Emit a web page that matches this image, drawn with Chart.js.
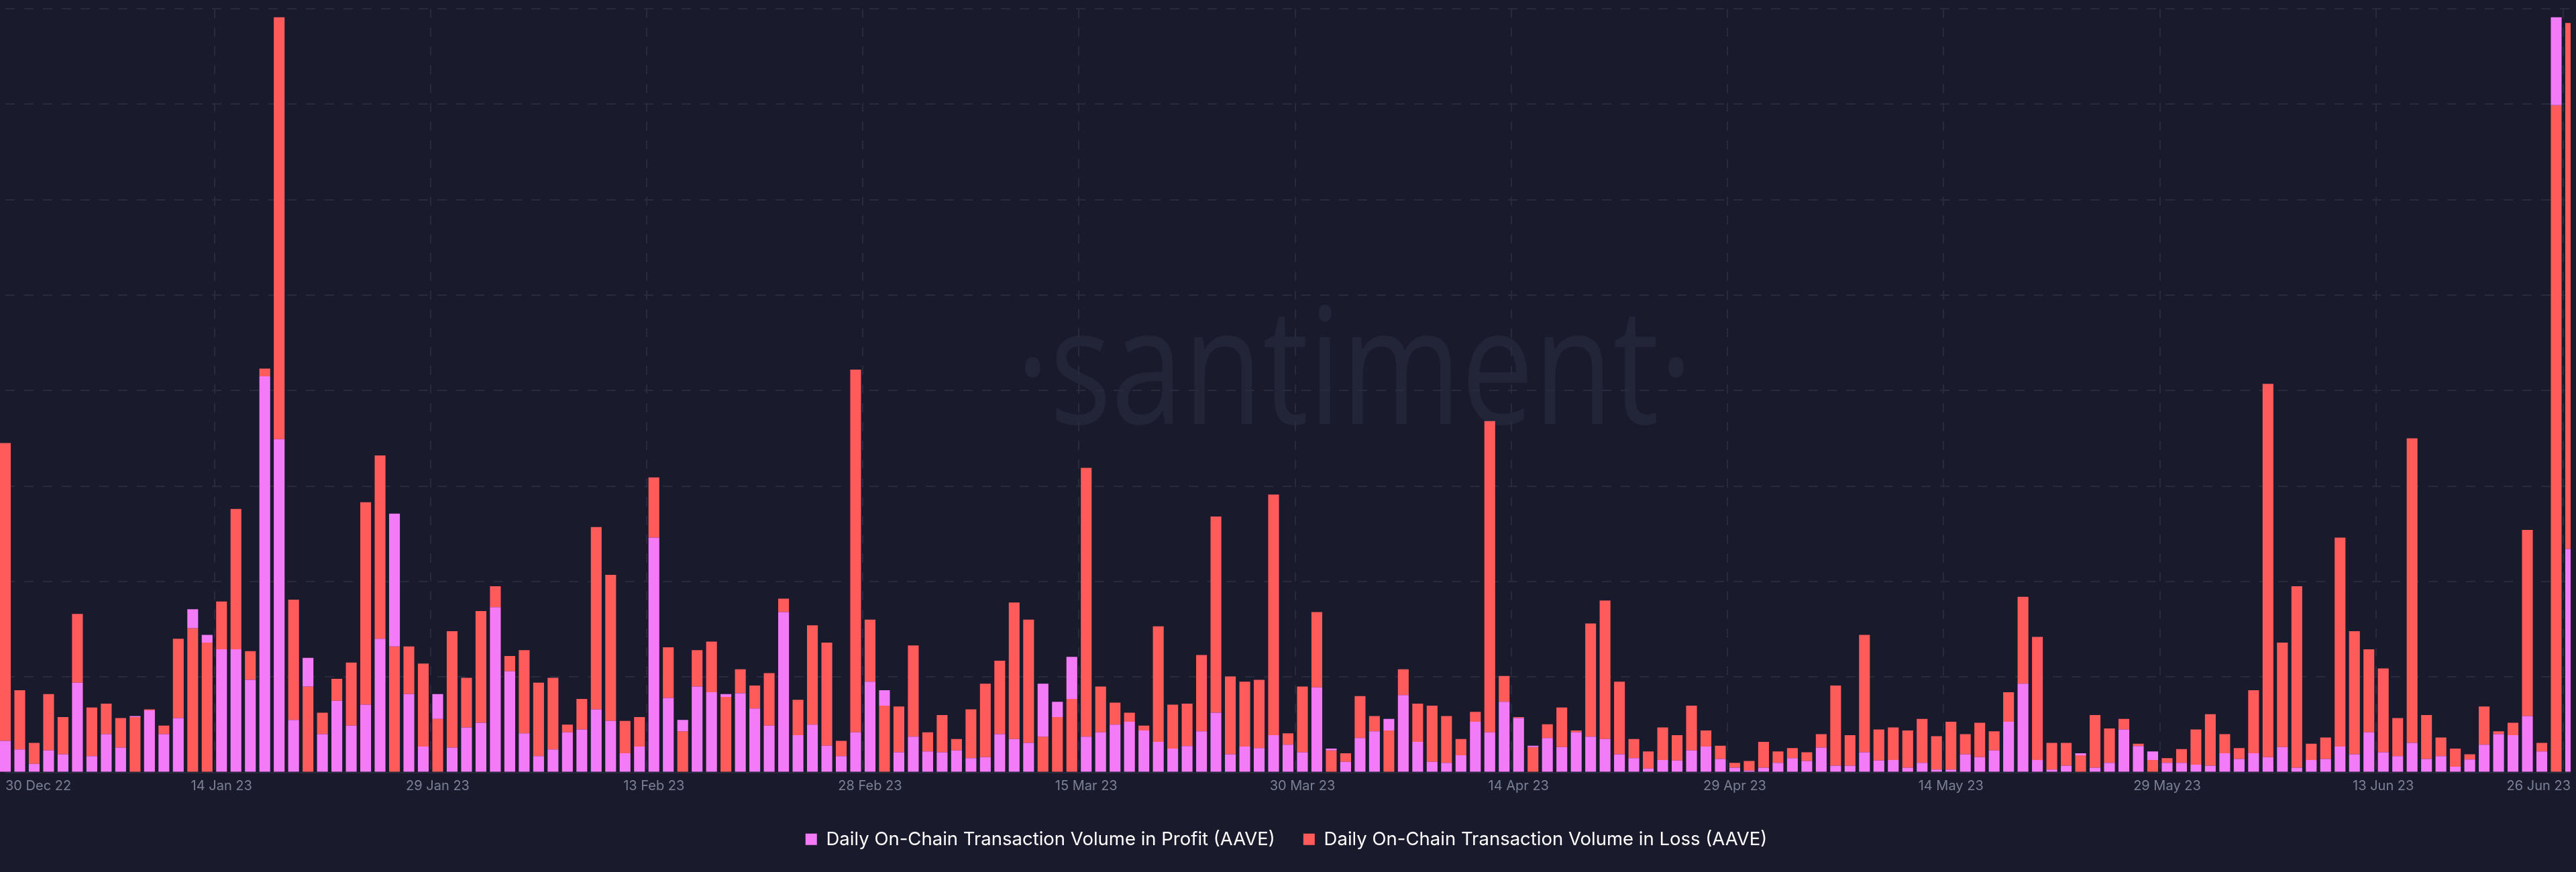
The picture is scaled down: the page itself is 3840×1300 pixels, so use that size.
<!DOCTYPE html>
<html>
<head>
<meta charset="utf-8">
<script src="https://cdn.jsdelivr.net/npm/chart.js@4.4.0/dist/chart.umd.min.js"></script>
<style>
  html, body { margin: 0; padding: 0; background: #191b2c; overflow: hidden; }
  #wrap { position: relative; width: 3840px; height: 1300px; }
  canvas { display: block; }
</style>
</head>
<body>
<div id="wrap"><canvas id="c" width="3840" height="1300"></canvas></div>
<script>
// ---- Data (units: arbitrary, 10 per grid step) ----
const firstDay = '2022-12-30';
const dayCount = 179; // 30 Dec 22 .. 26 Jun 23

const shownTicks = ['30 Dec 22', '14 Jan 23', '29 Jan 23', '13 Feb 23', '28 Feb 23', '15 Mar 23',
  '30 Mar 23', '14 Apr 23', '29 Apr 23', '14 May 23', '29 May 23', '13 Jun 23', '26 Jun 23'];

const profit = [
  3.3, 2.4, 0.9, 2.3, 1.9, 9.4, 1.7, 4.0, 2.6, 5.9,
  6.5, 4.0, 5.7, 17.1, 14.4, 12.9, 12.9, 9.7, 41.5, 34.9,
  5.5, 12.0, 4.0, 7.5, 4.9, 7.1, 14.0, 27.1, 8.2, 2.7,
  8.2, 2.6, 4.7, 5.2, 17.3, 10.6, 4.1, 1.7, 2.4, 4.2,
  4.5, 6.6, 5.4, 2.0, 2.7, 24.6, 7.8, 5.5, 9.0, 8.4,
  8.2, 8.3, 6.7, 4.9, 16.8, 3.9, 5.0, 2.8, 1.7, 4.2,
  9.5, 8.6, 2.1, 3.75, 2.2, 2.1, 2.3, 1.5, 1.6, 4.0,
  3.5, 3.1, 9.3, 7.4, 12.1, 3.75, 4.2, 5.0, 5.3, 4.4,
  3.2, 2.5, 2.75, 4.3, 6.25, 1.9, 2.7, 2.55, 3.9, 2.9,
  2.1, 8.9, 2.5, 1.1, 3.6, 4.3, 5.6, 8.1, 3.2, 1.1,
  1.0, 1.8, 5.3, 4.2, 7.4, 5.7, 2.8, 3.6, 2.65, 4.2,
  3.75, 3.5, 1.9, 1.5, 0.4, 1.3, 1.25, 2.3, 2.7, 1.4,
  0.5, 0.2, 0.5, 1.0, 1.5, 1.2, 2.6, 0.7, 0.7, 2.1,
  1.25, 1.3, 0.5, 1.0, 0.3, 0.3, 1.9, 1.6, 2.3, 5.3,
  9.3, 1.3, 0.3, 0.7, 2.0, 0.5, 1.0, 4.5, 2.75, 2.2,
  1.0, 1.0, 0.8, 0.7, 2.0, 1.4, 2.0, 1.6, 2.65, 0.5,
  1.3, 1.4, 2.7, 1.9, 4.2, 2.1, 1.7, 3.1, 1.4, 1.7,
  0.6, 1.35, 2.9, 4.0, 3.9, 5.9, 2.2, 79.1, 23.4
];

const loss = [
  34.5, 8.6, 3.1, 8.2, 5.8, 16.6, 6.8, 7.2, 5.7, 5.8,
  6.6, 4.9, 14.0, 15.1, 13.6, 17.9, 27.6, 12.7, 42.3, 79.1,
  18.1, 9.0, 6.25, 9.8, 11.5, 28.3, 33.2, 13.2, 13.2, 11.4,
  5.6, 14.8, 9.9, 16.9, 19.5, 12.2, 12.8, 9.4, 9.9, 5.0,
  7.7, 25.7, 20.7, 5.4, 5.8, 30.9, 13.1, 4.3, 12.8, 13.7,
  7.9, 10.8, 9.1, 10.4, 18.2, 7.6, 15.4, 13.6, 3.3, 42.2,
  16.0, 7.0, 6.9, 13.3, 4.2, 6.0, 3.5, 6.6, 9.3, 11.7,
  17.8, 16.0, 3.75, 5.8, 7.7, 31.9, 9.0, 7.3, 6.25, 4.9,
  15.3, 7.1, 7.2, 12.3, 26.8, 10.05, 9.5, 9.7, 29.1, 4.1,
  9.0, 16.8, 2.3, 2.0, 8.0, 5.9, 4.4, 10.8, 7.2, 7.0,
  5.9, 3.5, 6.35, 36.8, 10.1, 5.8, 2.65, 5.05, 6.8, 4.4,
  15.6, 18.0, 9.5, 3.5, 2.2, 4.7, 3.9, 7.0, 4.4, 2.8,
  1.0, 1.2, 3.2, 2.2, 2.55, 2.1, 4.0, 9.1, 3.9, 14.4,
  4.5, 4.7, 4.4, 5.6, 3.8, 5.3, 4.0, 5.2, 4.3, 8.4,
  18.4, 14.2, 3.1, 3.1, 1.8, 6.0, 4.6, 5.6, 3.0, 1.3,
  1.5, 2.45, 4.5, 6.1, 4.0, 2.55, 8.6, 40.7, 13.6, 19.5,
  3.0, 3.65, 24.6, 14.8, 12.9, 10.9, 5.7, 35.0, 6.0, 3.65,
  2.5, 1.9, 6.9, 4.3, 5.2, 25.4, 3.1, 69.9, 78.5
];

const seriesNames = ['Daily On-Chain Transaction Volume in Profit (AAVE)', 'Daily On-Chain Transaction Volume in Loss (AAVE)'];

// ---- Category labels (calendar days) ----
const monthNames = ['Jan','Feb','Mar','Apr','May','Jun','Jul','Aug','Sep','Oct','Nov','Dec'];
const dates = [];
{
  const d0 = new Date(firstDay + 'T00:00:00Z');
  for (let i = 0; i < dayCount; i++) {
    const d = new Date(d0.getTime() + i * 86400000);
    dates.push(d.getUTCDate() + ' ' + monthNames[d.getUTCMonth()] + ' ' + String(d.getUTCFullYear()).slice(2));
  }
}
const shownSet = new Set(shownTicks);

// Overlapping bars: the smaller value sits at the bottom, the larger one rises above it.
const profitBars = profit.map((p, i) => p <= loss[i] ? [0, p] : [loss[i], p]);
const lossBars = loss.map((l, i) => l < profit[i] ? [0, l] : [profit[i], l]);

const COLORS = { profit: '#f47bf7', loss: '#ff5b5b', grid: '#272b3d', tick: '#7a8096', bg: '#191b2c', mark: '#222537' };

const watermark = {
  id: 'watermark',
  beforeDraw(chart) {
    const ctx = chart.ctx;
    ctx.save();
    ctx.font = '400 242px "Open Sans"';
    const text = '\u00B7santiment\u00B7';
    const w = ctx.measureText(text).width;
    ctx.translate(2019, 632);
    ctx.scale(1010 / w, 1);
    ctx.textAlign = 'center';
    ctx.textBaseline = 'alphabetic';
    ctx.fillStyle = COLORS.mark;
    ctx.fillText(text, 0, 0);
    ctx.restore();
  }
};

function build() {
  const common = { grouped: false, categoryPercentage: 1, barPercentage: 0.75, borderWidth: 0,
                   clip: { left: 20, right: 0, top: 20, bottom: 0 } };
  new Chart(document.getElementById('c'), {
    type: 'bar',
    data: {
      labels: dates,
      datasets: [
        Object.assign({ label: seriesNames[0], data: profitBars, backgroundColor: COLORS.profit }, common),
        Object.assign({ label: seriesNames[1], data: lossBars, backgroundColor: COLORS.loss }, common)
      ]
    },
    options: {
      animation: false,
      responsive: false,
      devicePixelRatio: 1,
      layout: { padding: { top: 13, right: 5, left: 0, bottom: 25 } },
      plugins: {
        legend: {
          position: 'bottom',
          labels: { color: '#ffffff', font: { family: 'Inter', size: 27.5 }, boxWidth: 17, boxHeight: 17, padding: 42 }
        },
        tooltip: { enabled: false }
      },
      scales: {
        x: {
          offset: false,
          grid: {
            color: (c) => (shownSet.has(dates[c.index]) ? COLORS.grid : 'rgba(0,0,0,0)'),
            lineWidth: 2, drawTicks: false
          },
          border: { display: true, color: '#262a3b', width: 2, dash: [14, 14] },
          ticks: {
            autoSkip: false, maxRotation: 0, minRotation: 0, align: 'inner', padding: 8,
            color: COLORS.tick, font: { family: 'Inter', size: 20 },
            callback: (v, i) => (shownSet.has(dates[i]) ? dates[i] : '')
          },
          afterFit: (s) => { s.height += 4; }
        },
        y: {
          min: 0, max: 80,
          ticks: { display: false, stepSize: 10 },
          grid: { color: COLORS.grid, lineWidth: 2, drawTicks: false },
          border: { display: false, dash: [14, 14] }
        }
      }
    },
    plugins: [watermark]
  });
}

Promise.all([
  document.fonts.load('242px "Open Sans"'),
  document.fonts.load('20px Inter'),
  document.fonts.load('27.5px Inter')
]).then(build, build);
</script>
</body>
</html>
